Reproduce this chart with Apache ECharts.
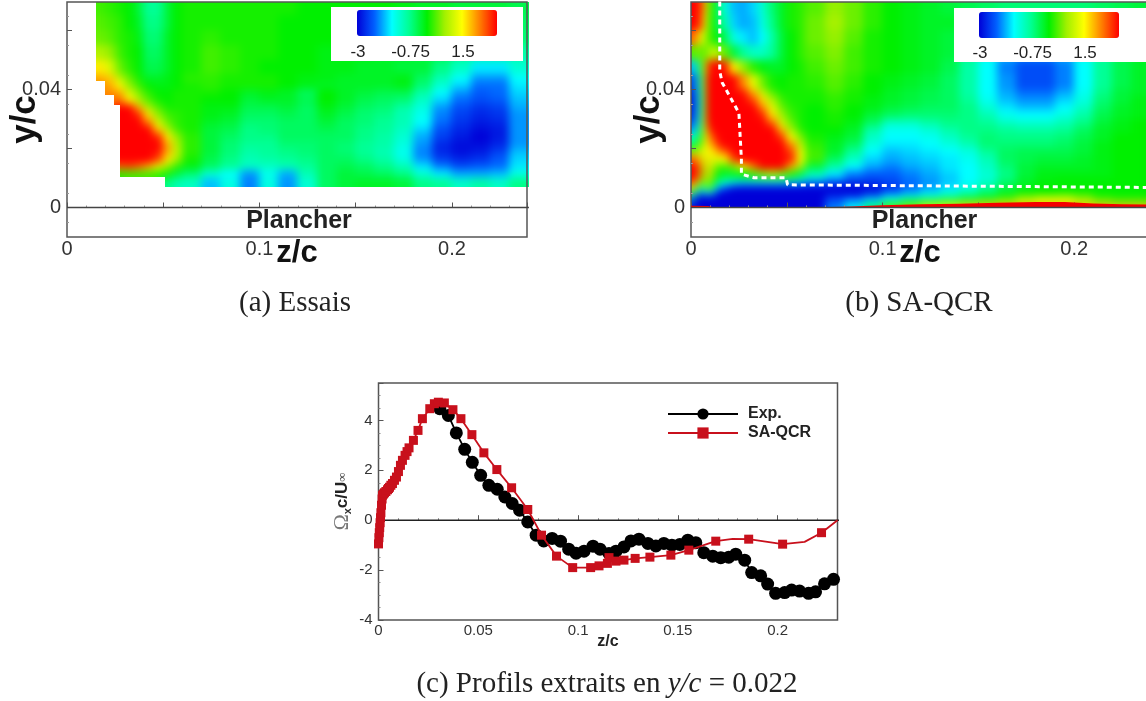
<!DOCTYPE html>
<html><head><meta charset="utf-8">
<style>
html,body{margin:0;padding:0;background:#fff;overflow:hidden}
#main{width:1146px;height:701px}
</style>
<script src="https://cdn.jsdelivr.net/npm/echarts@6/dist/echarts.min.js"></script>
</head><body>
<svg width="0" height="0" style="position:absolute"><filter id="smooth" x="0" y="0" width="100%" height="100%" color-interpolation-filters="sRGB"><feGaussianBlur stdDeviation="4"/><feComponentTransfer><feFuncA type="linear" slope="60"/></feComponentTransfer></filter></svg>
<div id="main"></div>
<script>
const n = null;
const essaisZ = [.015,.02,.025,.03,.035,.04,.045,.05,.055,.06,.07,.08,.09,.10,.11,.12,.13,.14,.15,.16,.17,.18,.19,.20,.21,.22,.23,.24];
const essaisY = [.07,.065,.06,.055,.05,.045,.0425,.04,.0375,.035,.0325,.03,.0275,.025,.0225,.02,.0175,.015,.0125,.01,.0065];
const essaisValues = [
[.3,.2,.1,0,-.3,-.8,-.8,-.3,0,.1,.1,.1,.1,.1,.1,0,0,0,0,0,-.1,-.2,-.2,-.3,-.3,-.3,-.4],
[.4,.3,.2,0,-.2,-.7,-.7,-.3,0,.1,.1,.1,.1,.1,0,0,0,0,0,-.1,-.1,-.2,-.3,-.3,-.3,-.4,-.5],
[.5,.4,.2,.1,-.1,-.6,-.6,-.2,0,.1,.2,.1,.1,.1,0,0,0,0,-.1,-.1,-.2,-.3,-.4,-.4,-.4,-.5,-.6],
[.9,.7,.3,.1,0,-.5,-.5,-.2,0,.1,.3,.2,.1,.1,0,0,-.1,-.1,-.1,-.2,-.2,-.3,-.4,-.7,-.9,-.9,-.9],
[1.6,1.2,.5,.2,0,-.4,-.4,-.2,0,.1,.3,.2,.1,0,0,0,-.1,-.1,-.2,-.2,-.3,-.3,-.7,-1.1,-1.6,-1.6,-1.2],
[2,1.8,1,.5,.1,-.2,-.2,-.1,0,.2,.2,.1,.1,.1,0,-.1,-.1,-.2,-.2,-.2,-.1,-.5,-1,-1.5,-2,-2,-1.5],
[2.2,2,1.5,.7,.3,0,-.1,-.1,0,.1,.2,.1,.1,.1,0,-.1,-.2,-.2,-.2,-.2,-.1,-.6,-1.2,-1.7,-2.2,-2.2,-1.6],
[n,2.2,2,1.2,.6,.2,0,0,.1,.1,.1,0,-.2,-.1,-.2,-.5,0,-.2,-.3,-.4,-.4,-.9,-1.5,-2,-2.3,-2.2,-1.7],
[n,2.3,2.4,1.6,.9,.4,.1,0,.1,.1,0,0,-.3,-.2,-.2,-.4,0,-.2,-.4,-.5,-.6,-1.1,-1.7,-2.2,-2.4,-2.3,-1.8],
[n,n,3,3,2,.9,.4,.1,.1,.1,-.1,-.1,-.4,-.4,-.3,-.5,-.1,-.3,-.5,-.6,-.9,-1.3,-2,-2.4,-2.6,-2.5,-1.9],
[n,n,3,3,2.8,1.7,.7,.3,.2,.1,-.1,-.2,-.5,-.5,-.4,-.5,-.2,-.4,-.6,-.7,-1,-1.4,-2.1,-2.5,-2.7,-2.6,-2],
[n,n,3,3,3,2.3,1.2,.5,.2,.1,-.2,-.3,-.6,-.6,-.5,-.5,-.3,-.5,-.6,-.8,-1,-1.5,-2.2,-2.6,-2.8,-2.7,-2],
[n,n,3,3,3,3,1.8,.9,.3,.1,-.3,-.4,-.7,-.6,-.5,-.5,-.4,-.5,-.7,-.8,-1.1,-1.7,-2.4,-2.7,-2.9,-2.8,-2],
[n,n,3,3,3,3,2.8,1.6,.7,.2,-.3,-.5,-.7,-.7,-.5,-.5,-.5,-.5,-.7,-.9,-1.2,-1.9,-2.5,-2.8,-3,-2.8,-2],
[n,n,3,3,3,3,3,2,.9,.2,-.3,-.6,-.8,-.8,-.6,-.6,-.5,-.6,-.8,-.9,-1.3,-2,-2.7,-2.9,-2.9,-2.7,-2],
[n,n,3,3,3,3,2.9,2,1,.2,-.3,-.6,-.9,-.8,-.7,-.6,-.5,-.6,-.8,-1,-1.4,-2.1,-2.7,-2.9,-2.8,-2.5,-1.8],
[n,n,3,3,3,3,2.6,1.6,.8,.1,-.4,-.7,-1,-.9,-.8,-.7,-.5,-.5,-.7,-.9,-1.3,-2,-2.5,-2.7,-2.6,-2.3,-1.7],
[n,n,2.5,2.6,2.4,2,1.3,.7,.2,-.1,-.5,-.8,-1.1,-1.1,-1,-.8,-.5,-.4,-.5,-.7,-1,-1.6,-2.1,-2.4,-2.3,-2.2,-1.6],
[n,n,.2,.3,.3,.3,.2,.1,-.3,-.6,-1.2,-1.5,-2,-1.4,-1.9,-1,-.5,-.3,-.4,-.5,-.7,-1.2,-1.6,-1.9,-1.9,-1.8,-1.3],
[n,n,n,n,n,n,n,-.7,-1,-1.1,-1.8,-1.3,-2.1,-1.3,-2,-1.2,-.5,-.3,-.2,-.2,-.3,-.7,-.8,-1.1,-.9,-1.1,-.7]
];
const essaisOutline = [[.015,.0697],[.015,.043],[.0197,.043],[.0197,.0383],[.0245,.0383],[.0245,.0349],[.0276,.0349],[.0276,.0105],[.051,.0105],[.051,.0068],[.24,.0068],[.24,.0697]];

// ---- Panel (b) SA-QCR
const qcrZ = [0,.002,.004,.006,.008,.01,.0125,.015,.02,.025,.03,.035,.04,.045,.05,.055,.06,.07,.08,.09,.10,.11,.12,.13,.14,.15,.16,.17,.18,.19,.20,.21,.22,.23,.24];
const qcrY = [.07,.065,.06,.055,.05,.045,.04,.0375,.035,.0325,.03,.0275,.025,.0225,.02,.0175,.015,.0125,.01,.0085,.007,.0055,.004,.0025,.001,0];
const qcrValues = [
[3,3,2.9,2,.8,.1,-.2,-1.2,-1.8,-1.9,-1.7,-1.2,-.6,-.2,.1,.2,.4,.7,.5,.2,0,-.1,-.2,-.3,-.4,-.5,-.6,-.6,-.6,-.6,-.6,-.5,-.4,-.3],
[3,3,2.8,1.7,.6,.1,-.2,-.9,-1.7,-1.9,-1.8,-1.3,-.7,-.2,.1,.2,.5,.8,.5,.2,0,-.1,-.2,-.2,-.5,-.7,-.9,-1,-1,-1,-.9,-.6,-.4,-.3],
[2.6,2.3,1.5,.9,.5,.2,0,-.4,-1.3,-1.6,-1.8,-1.5,-.9,-.3,0,.2,.5,.7,.4,.1,0,-.1,-.2,-.3,-.6,-1,-1.3,-1.5,-1.5,-1.4,-1.1,-.7,-.4,-.3],
[.2,.6,.5,.4,.6,1.2,.9,.5,-.3,-.8,-1.1,-1.1,-.8,-.3,0,.2,.4,.6,.3,.1,0,-.1,-.2,-.3,-.7,-1.3,-1.8,-2,-2,-1.8,-1.3,-.8,-.4,-.2],
[-2,-1.6,-.3,.9,2.6,3,3,2.9,1.6,.7,.2,-.1,-.2,-.2,0,.1,.3,.5,.3,.1,0,-.1,-.2,-.4,-.9,-1.5,-2.1,-2.4,-2.4,-2.1,-1.5,-.8,-.4,-.2],
[-2.7,-2.2,-.9,.7,3,3,3,3,3,2.2,1.3,.5,.1,0,.1,.1,.2,.4,.2,0,-.1,-.2,-.3,-.5,-.9,-1.5,-2,-2.4,-2.4,-2.1,-1.5,-.8,-.4,-.2],
[-2.9,-2.4,-1.1,.6,3,3,3,3,3,2.9,2,1.1,.4,.1,.1,.1,.1,.3,.1,0,-.2,-.3,-.4,-.5,-.9,-1.5,-1.9,-2.2,-2.2,-1.9,-1.4,-.7,-.3,-.2],
[-3,-2.5,-1.2,.6,3,3,3,3,3,3,2.6,1.7,.9,.3,.1,.1,.1,.2,.1,-.1,-.2,-.3,-.4,-.5,-.8,-1.4,-1.8,-2,-2,-1.7,-1.3,-.6,-.3,-.1],
[-3,-2.5,-1.2,.6,3,3,3,3,3,3,3,2.2,1.3,.5,.2,.1,0,.2,0,-.1,-.3,-.4,-.5,-.5,-.7,-1.2,-1.6,-1.8,-1.8,-1.5,-1.1,-.5,-.2,-.1],
[-2.9,-2.4,-1.1,.7,3,3,3,3,3,3,3,2.8,1.7,.8,.3,.1,0,.1,0,-.3,-.5,-.6,-.6,-.6,-.7,-1,-1.4,-1.5,-1.5,-1.3,-.9,-.4,-.2,-.1],
[-2.7,-2.1,-.9,.8,2.9,3,3,3,3,3,3,3,2.4,1.2,.5,.1,0,.1,-.1,-.5,-1.1,-1.1,-.9,-.7,-.7,-.8,-1.1,-1.2,-1.2,-1,-.7,-.3,-.1,0],
[-2.2,-1.7,-.6,.9,2.4,3,3,3,3,3,3,3,3,1.9,.8,.2,0,0,-.2,-.9,-1.4,-1.4,-1.2,-.9,-.7,-.7,-.8,-.9,-.9,-.8,-.5,-.2,-.1,0],
[-1.4,-1,-.2,1,1.9,2.5,2.9,3,3,3,3,3,3,2.7,1.4,.6,.1,-.1,-.3,-1.1,-1.5,-1.5,-1.4,-1.1,-.8,-.6,-.7,-.7,-.7,-.6,-.4,-.2,0,0],
[-.6,-.3,.4,1.2,1.7,2.1,2.5,3,3,3,3,3,3,3,2.2,1,.2,-.2,-.5,-1.3,-1.6,-1.6,-1.5,-1.3,-1,-.6,-.6,-.6,-.6,-.5,-.3,-.1,0,0],
[.5,.7,1.1,1.3,1.5,1.6,1.9,2.4,3,3,3,3,3,3,2.6,1.3,.3,-.2,-.8,-1.5,-1.8,-1.7,-1.6,-1.5,-1.3,-.8,-.5,-.4,-.4,-.4,-.3,-.1,0,0],
[2.4,2.4,1.8,1,1.7,1.3,1.2,1.5,2.6,3,3,3,3,3,2.8,1.4,.3,-.5,-1.1,-1.7,-1.9,-1.8,-1.7,-1.6,-1.4,-1,-.5,-.4,-.3,-.3,-.2,-.1,0,0],
[3,3,2.3,.7,1.8,1,.5,.3,.6,1.5,2.3,3,3,3,2,.8,-.3,-.9,-1.5,-1.9,-2.1,-1.9,-1.8,-1.6,-1.5,-1.1,-.6,-.3,-.2,-.2,-.2,-.1,0,0],
[3,3,2.3,.4,1.8,.7,.1,-.2,-.2,0,.3,.6,.8,.6,.2,-.3,-1,-1.6,-2.1,-2.3,-2.3,-2.1,-1.9,-1.7,-1.5,-1.2,-.7,-.3,-.1,-.1,-.1,-.1,0,0],
[3,2.8,1.6,.1,1.6,.4,-.2,-.8,-1,-1.1,-1,-.9,-.9,-.9,-1.1,-1.4,-1.8,-2.2,-2.5,-2.5,-2.4,-2.2,-2,-1.8,-1.5,-1.2,-.6,-.2,-.1,0,0,0,0,0],
[2.6,1.7,.5,-.3,1.2,0,-.7,-1.4,-1.8,-2,-2,-2,-2,-2,-2.1,-2.2,-2.4,-2.6,-2.7,-2.7,-2.5,-2.2,-2,-1.7,-1.4,-1,-.5,-.2,0,0,0,0,0,0],
[1.7,.5,-1,-1,.7,-.5,-1.6,-2.5,-3,-3,-3,-3,-3,-3,-3,-3,-3,-3,-3,-2.9,-2.6,-2.2,-1.9,-1.6,-1.3,-.8,-.3,-.1,0,0,0,0,0,0],
[.5,-1,-2,-2,-1.4,-1.8,-2.8,-3,-3,-3,-3,-3,-3,-3,-3,-3,-3,-3,-3,-2.8,-2.3,-1.9,-1.6,-1.3,-.9,-.5,-.2,0,0,.1,.1,0,0,0],
[-1,-2.7,-3,-3,-3,-2.8,-3,-3,-3,-3,-3,-3,-3,-3,-3,-3,-3,-2.5,-2.4,-2,-1.5,-1.2,-1,-.7,-.4,-.2,.2,.7,1,1,.6,.2,.1,.1],
[-2,-3,-3,-3,-3,-3,-3,-3,-3,-3,-3,-3,-3,-3,-3,-3,-3,-2.4,-1.8,-1.2,-.5,0,.3,.5,.6,.8,1,1.3,1.5,1.5,1.2,.8,.6,.6],
[-3,-3,-3,-3,-3,-3,-3,-3,-3,-3,-3,-3,-3,-3,-3,-3,-3,-2,-1.4,-.5,.5,1,1.5,1.5,1.8,2,2,2,2,2,2,2,2,2]
];
const qcrOutline = [[0,.0697],[0,0],[.24,0],[.24,.0697]];
const wallZ = [0,.009,.012,.06,.08,.10,.12,.14,.16,.18,.195,.21,.225,.24];
const wallTop = [.0006,.0005,0,0,.0003,.0008,.0011,.0013,.0016,.0019,.0019,.0014,.0011,.001];
const dashedZ = [.015,.015,.0163,.025,.0263,.0263,.0329,.0496,.0504,.24];
const dashedY = [.0699,.0462,.0423,.0321,.0163,.0113,.0101,.0101,.0077,.0068];

// ---- Panel (c) profiles
const expZ = [.0307,.035,.039,.0432,.047,.0512,.0553,.0595,.0633,.067,.0707,.0748,.079,.0828,.087,.0912,.0953,.099,.103,.1075,.111,.1155,.119,.123,.1265,.1305,.135,.139,.143,.147,.151,.155,.159,.163,.1675,.1715,.1755,.179,.1835,.187,.1915,.195,.199,.2035,.207,.211,.2155,.219,.2235,.228];
const expV = [4.47,4.2,3.5,2.84,2.32,1.8,1.4,1.24,.93,.67,.4,-.07,-.6,-.83,-.73,-.84,-1.16,-1.32,-1.24,-1.04,-1.16,-1.33,-1.24,-1.07,-.83,-.76,-.93,-1.03,-.93,-1,-.97,-.8,-.9,-1.3,-1.44,-1.5,-1.48,-1.36,-1.6,-2.1,-2.23,-2.56,-2.93,-2.9,-2.8,-2.84,-2.93,-2.87,-2.55,-2.37];
const saZ = [0,.0002,.0004,.0006,.0008,.001,.0012,.0015,.0018,.002,.0025,.003,.0037,.0045,.005,.0055,.0062,.007,.008,.009,.01,.011,.012,.0133,.0143,.0153,.0175,.0198,.022,.0257,.028,.03,.033,.0373,.0413,.0468,.0528,.0593,.0667,.0748,.0817,.0892,.0973,.1063,.1105,.1147,.1155,.119,.123,.1286,.136,.1465,.1555,.169,.1775,.1855,.2025,.2135,.222,.23];
const saV = [-.95,-.7,-.5,-.3,-.1,.1,.3,.6,.85,1,1.05,1.1,1.15,1.22,1.27,1.32,1.4,1.47,1.6,1.73,1.95,2.2,2.4,2.6,2.75,2.9,3.2,3.6,4.07,4.47,4.67,4.73,4.7,4.43,4.07,3.43,2.7,2.03,1.3,.43,-.6,-1.44,-1.9,-1.9,-1.83,-1.73,-1.5,-1.64,-1.6,-1.53,-1.48,-1.4,-1.2,-.84,-.75,-.76,-.96,-.87,-.5,0];
const saNoMarkerZ = [.1775,.2135,.23];
const zeroLineZ = [0,.24];
const zeroLineV = [0,0];

// ---- Tick labels and texts
const fieldXLabels = [0,.1,.2];
const fieldYLabels = [0,.04];
const colourBarLabels = ['-3','-0.75','1.5'];
const profileXLabels = [0,.05,.1,.15,.2];
const profileYLabels = [-4,-2,0,2,4];
const fieldColours = ['#0000d8','#0060ff','#00ffff','#00ff90','#00f000','#a0f000','#ffff00','#ff8000','#ff0000'];

const chart = echarts.init(document.getElementById('main'), null, {renderer:'canvas'});
const sans = '"Liberation Sans",Arial,sans-serif';
const serif = '"Liberation Serif",serif';

function cells(zs, ys, rows){
  const out = [];
  rows.forEach((row,j)=>row.forEach((v,i)=>{
    if (v !== null) out.push([zs[i],zs[i+1],ys[j+1],ys[j],v]);
  }));
  return out;
}
function renderCell(params, api){
  const a = api.coord([api.value(0),api.value(3)]);
  const b = api.coord([api.value(1),api.value(2)]);
  const x = Math.floor(a[0]), y = Math.floor(a[1]);
  return {type:'rect', shape:{x, y, width:Math.ceil(b[0])-x, height:Math.ceil(b[1])-y}, style:{fill:api.visual('color')}};
}
function fieldSeries(g, zs, ys, rows){
  return {type:'custom', xAxisIndex:g, yAxisIndex:g, zlevel:-1, silent:true, clip:true, animation:false,
    encode:{x:[0,1],y:[2,3]}, dimensions:['z0','z1','y0','y1','v'], data:cells(zs,ys,rows), renderItem:renderCell};
}
function fieldX(g){
  return {gridIndex:g, type:'value', min:0, max:.239, interval:.05,
    name:'z/c', nameLocation:'middle', nameGap:1, nameMoveOverlap:false,
    nameTextStyle:{fontFamily:sans, fontWeight:'bold', fontSize:31, color:'#111', verticalAlign:'top'},
    axisLine:{show:false}, splitLine:{show:false},
    axisTick:{show:true, inside:true, length:5, lineStyle:{color:'#555'}},
    minorTick:{show:true, splitNumber:5, length:2, lineStyle:{color:'#999'}},
    axisLabel:{customValues:fieldXLabels, formatter:v=>String(v), fontFamily:sans, fontSize:20, color:'#333', margin:2, hideOverlap:false, showMinLabel:true}};
}
function fieldYAxis(g){
  return {gridIndex:g, type:'value', min:-.01, max:.0697, interval:.01,
    name:'y/c', nameLocation:'middle', nameGap:24, nameRotate:90, nameMoveOverlap:false,
    nameTextStyle:{fontFamily:sans, fontWeight:'bold', fontSize:35, color:'#111'},
    axisLine:{show:false}, splitLine:{show:false},
    axisTick:{show:true, inside:true, length:5, customValues:[.02,.04,.06], lineStyle:{color:'#555'}},
    minorTick:{show:true, splitNumber:2, length:2, lineStyle:{color:'#999'}},
    axisLabel:{customValues:fieldYLabels, formatter:v=>String(v), fontFamily:sans, fontSize:20, color:'#333', margin:6, hideOverlap:false}};
}
const frame = {show:true, backgroundColor:'transparent', borderColor:'#555', borderWidth:1.5, outerBoundsMode:'none', containLabel:false};
function floorLine(g){
  return {type:'line', xAxisIndex:g, yAxisIndex:g, silent:true, symbol:'none', animation:false,
    lineStyle:{color:'#444',width:1.5}, data:zeroLineZ.map((z,i)=>[z,zeroLineV[i]])};
}
function colourBar(series, left, top){
  return {type:'continuous', seriesIndex:series, dimension:4, min:-3, max:3, orient:'horizontal',
    left, top, padding:0, itemWidth:26, itemHeight:140, calculable:false, hoverLink:false, text:null,
    inRange:{color:fieldColours}, textStyle:{color:'transparent'}};
}
function textEl(text,x,y,font,extra){
  return Object.assign({type:'text', z:6, silent:true, style:{text,x,y,font,fill:'#222',align:'center',verticalAlign:'middle'}},extra||{});
}
function legendBox(x,y,w,h,barLeft){
  const out = [{type:'rect', z:3, silent:true, shape:{x,y,width:w,height:h}, style:{fill:'#fff'}}];
  colourBarLabels.forEach((t,i)=>out.push(textEl(t, barLeft+1+i*52.5, y+45, '17px '+sans)));
  return out;
}

const exp = expZ.map((z,i)=>[z,expV[i]]);
const sa = saZ.map((z,i)=> saNoMarkerZ.includes(z) ? {value:[z,saV[i]],symbol:'none'} : [z,saV[i]]);

chart.setOption({
  animation:false,
  backgroundColor:'transparent',
  textStyle:{fontFamily:sans},
  grid:[
    Object.assign({left:67,top:2,width:460,height:235},frame),
    Object.assign({left:691,top:2,width:458,height:235},frame),
    Object.assign({left:378.5,top:383,width:459,height:237},frame)
  ],
  xAxis:[fieldX(0),fieldX(1),
    {gridIndex:2,type:'value',min:0,max:.23,interval:.05,name:'z/c',nameLocation:'middle',nameGap:14,nameMoveOverlap:false,
     nameTextStyle:{fontFamily:sans,fontWeight:'bold',fontSize:16,color:'#222'},
     axisLine:{show:false},splitLine:{show:false},
     axisTick:{inside:true,length:5,lineStyle:{color:'#555'}},
     minorTick:{show:true,splitNumber:5,length:2,lineStyle:{color:'#888'}},
     axisLabel:{customValues:profileXLabels,formatter:v=>String(v),fontFamily:sans,fontSize:15,color:'#333',margin:3,hideOverlap:false}}],
  yAxis:[fieldYAxis(0),fieldYAxis(1),
    {gridIndex:2,type:'value',min:-4,max:5.5,interval:2,
     name:'{o|Ω}{x|x}{b|c/U}{i|∞}',nameLocation:'middle',nameGap:25,nameRotate:90,nameMoveOverlap:false,
     nameTextStyle:{rich:{o:{fontFamily:serif,fontSize:22,color:'#777'},x:{fontFamily:sans,fontSize:11,fontWeight:'bold',color:'#333',verticalAlign:'bottom'},b:{fontFamily:sans,fontSize:17,fontWeight:'bold',color:'#222'},i:{fontFamily:serif,fontSize:13,color:'#444'}}},
     axisLine:{show:false},splitLine:{show:false},
     axisTick:{inside:true,length:5,lineStyle:{color:'#555'}},
     minorTick:{show:true,splitNumber:4,length:2,lineStyle:{color:'#888'}},
     axisLabel:{customValues:profileYLabels,formatter:v=>String(v),fontFamily:sans,fontSize:15,color:'#333',margin:6,hideOverlap:false}}],
  visualMap:[colourBar(0,357,10),colourBar(1,979,12)],
  legend:{show:true,data:['Exp.','SA-QCR'],orient:'vertical',left:667,top:406,padding:0,itemWidth:70,itemHeight:14,itemGap:3,
    textStyle:{fontFamily:sans,fontWeight:'bold',fontSize:16,color:'#222',padding:[0,0,0,5]},selectedMode:false},
  graphic:{elements:[
    ...legendBox(331,7,192,54,357),
    ...legendBox(954,8,192,54,979),
    textEl('Plancher',299,221,'bold 25px '+sans,{}),
    textEl('Plancher',924.5,221,'bold 25px '+sans,{}),
    textEl('(a) Essais',295,303,'29px '+serif),
    textEl('(b) SA-QCR',919,303,'29px '+serif),
    {type:'text',z:6,silent:true,style:{x:607,y:684,align:'center',verticalAlign:'middle',fill:'#222',
      text:'{r|(c) Profils extraits en }{i|y/c}{r| = 0.022}',
      rich:{r:{font:'29px '+serif,fill:'#222'},i:{font:'italic 29px '+serif,fill:'#222'}}}}
  ]},
  series:[
    fieldSeries(0,essaisZ,essaisY,essaisValues),
    fieldSeries(1,qcrZ,qcrY,qcrValues),
    floorLine(0),
    floorLine(1),
    {type:'line',xAxisIndex:1,yAxisIndex:1,silent:true,symbol:'none',z:2,animation:false,
     lineStyle:{width:0},areaStyle:{color:'#f40000',opacity:1},data:wallZ.map((z,i)=>[z,wallTop[i]])},
    {type:'line',xAxisIndex:1,yAxisIndex:1,silent:true,symbol:'none',z:3,animation:false,
     lineStyle:{color:'#fff',width:3,type:[5,4]},data:dashedZ.map((z,i)=>[z,dashedY[i]])},
    {type:'line',xAxisIndex:2,yAxisIndex:2,silent:true,symbol:'none',animation:false,
     lineStyle:{color:'#222',width:1.5},data:zeroLineZ.map((z,i)=>[z,zeroLineV[i]])},
    {name:'Exp.',type:'line',xAxisIndex:2,yAxisIndex:2,symbol:'circle',symbolSize:13,animation:false,z:3,
     itemStyle:{color:'#000'},lineStyle:{color:'#000',width:1.8},data:exp},
    {name:'SA-QCR',type:'line',xAxisIndex:2,yAxisIndex:2,symbol:'rect',symbolSize:9,animation:false,z:4,
     itemStyle:{color:'#c8101c'},lineStyle:{color:'#c8101c',width:1.8},data:sa}
  ]
});

// The field layer is smoothed like the source image, then cut to the outline of each field.
function applyFieldLayer(){
  const c = document.querySelector('canvas[data-zr-dom-id="zr_-1"]');
  if (!c) return;
  const path = [[0,essaisOutline],[1,qcrOutline]].map(([g,o])=>{
    const pts = o.map(p=>chart.convertToPixel({gridIndex:g},p).map(Math.round));
    return 'M'+pts.map(p=>p.join(' ')).join('L')+'Z';
  }).join(' ');
  c.style.filter = 'url(#smooth)';
  c.style.clipPath = "path('"+path+"')";
}
applyFieldLayer();
chart.on('finished',applyFieldLayer);
</script>
</body></html>
